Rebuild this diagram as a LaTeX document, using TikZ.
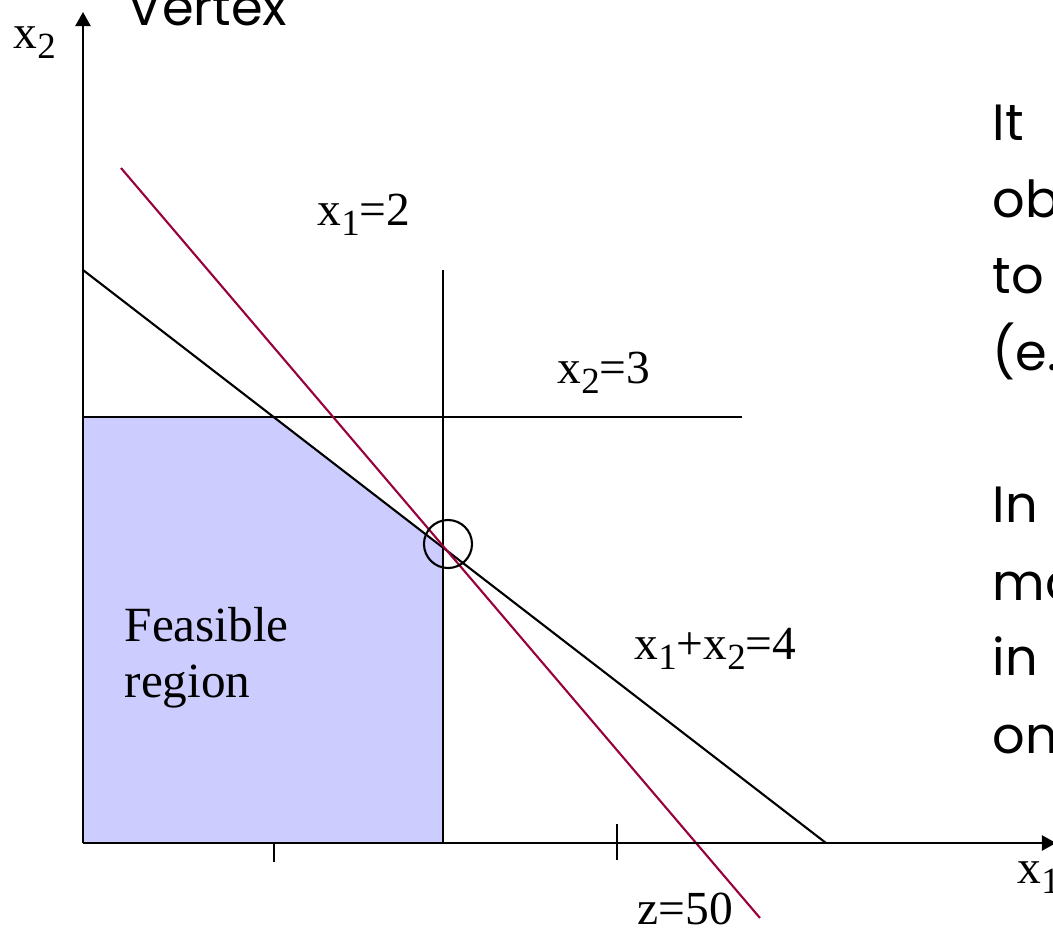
\documentclass[tikz,border=0pt]{standalone}
\usepackage{fontspec}
\setmainfont{Liberation Serif}
\newfontfamily\handfont{Poppins}
\usetikzlibrary{arrows.meta, positioning}
\definecolor{zRed}{HTML}{99003C}
\definecolor{feasBlue}{HTML}{CCCCFF}
\newcommand{\sbs}[1]{\raisebox{-0.22em}{\fontsize{10.5}{10.5}\selectfont #1}}

\begin{document}
\begin{tikzpicture}[x=0.01cm, y=-0.01cm,
    lbl/.style={anchor=base west, inner sep=0pt, font=\fontsize{13.5}{15}\selectfont},
    hand/.style={anchor=base west, inner sep=0pt, font=\handfont\fontsize{14.5}{16}\selectfont},
    axis/.style={line width=0.6pt, -{Triangle[length=4pt, width=4.3pt]}},
    bound/.style={line width=0.6pt}]
    \useasboundingbox (0,0) rectangle (1053,929);
    \clip (0,0) rectangle (1053,929);
    % corner points of the region
    \coordinate (o) at (83,843);
    \coordinate (top) at (83,12);
    \coordinate (right) at (1056,843);
    \coordinate (c1) at (83,417);
    \coordinate (c2) at (275,417);
    \coordinate (v) at (443,548);
    \coordinate (c4) at (443,843);
    \fill[feasBlue] (o) -- (c1) -- (c2) -- (v) -- (c4) -- cycle;
    % constraints
    \coordinate (h1) at (742,417);
    \coordinate (x1top) at (443,270);
    \coordinate (s1) at (83,270);
    \coordinate (s2) at (826,843);
    \coordinate (z1) at (121,168);
    \coordinate (z2) at (760,918);
    \draw[bound] (c1) -- (h1);
    \draw[bound] (x1top) -- (c4);
    \draw[bound] (s1) -- (s2);
    \draw[line width=0.6pt, zRed] (z1) -- (z2);
    % axes and ticks
    \draw[axis] (o) -- (top);
    \draw[axis] (o) -- (right);
    \coordinate (t1a) at (274,843);
    \coordinate (t1b) at (274,862);
    \coordinate (t2a) at (617,824);
    \coordinate (t2b) at (617,860);
    \draw[bound] (t1a) -- (t1b);
    \draw[bound] (t2a) -- (t2b);
    \node[draw, circle, line width=0.6pt, minimum size=0.48cm, inner sep=0pt] (vert) at (448,544) {};
    % labels
    \node[lbl] (lx2) at (13,48) {x\sbs{2}};
    \node[lbl] (lx1) at (1017,883) {x\sbs{1}};
    \node[lbl] (la) at (317,225) {x\sbs{1}=2};
    \node[lbl] (lb) at (557,383) {x\sbs{2}=3};
    \node[lbl] (lc) at (634,659) {x\sbs{1}+x\sbs{2}=4};
    \node[lbl] (lz) at (637,924) {z=50};
    \node[lbl] (feas1) at (124,641) {\fontsize{14}{16}\selectfont Feasible};
    \node[lbl] (feas2) at (124,697) {\fontsize{14}{16}\selectfont region};
    % text on the right
    \node[hand] (vtx) at (127,25) {Vertex};
    \node[hand] (r1) at (992,140) {It};
    \node[hand] (r2) at (992,217) {ob};
    \node[hand] (r3) at (992,293) {to};
    \node[hand] (r4) at (992,370) {(e.};
    \node[hand] (r5) at (992,522) {In};
    \node[hand] (r6) at (992,600) {ma};
    \node[hand] (r7) at (992,675) {in};
    \node[hand] (r8) at (992,753) {on};
\end{tikzpicture}
\end{document}
